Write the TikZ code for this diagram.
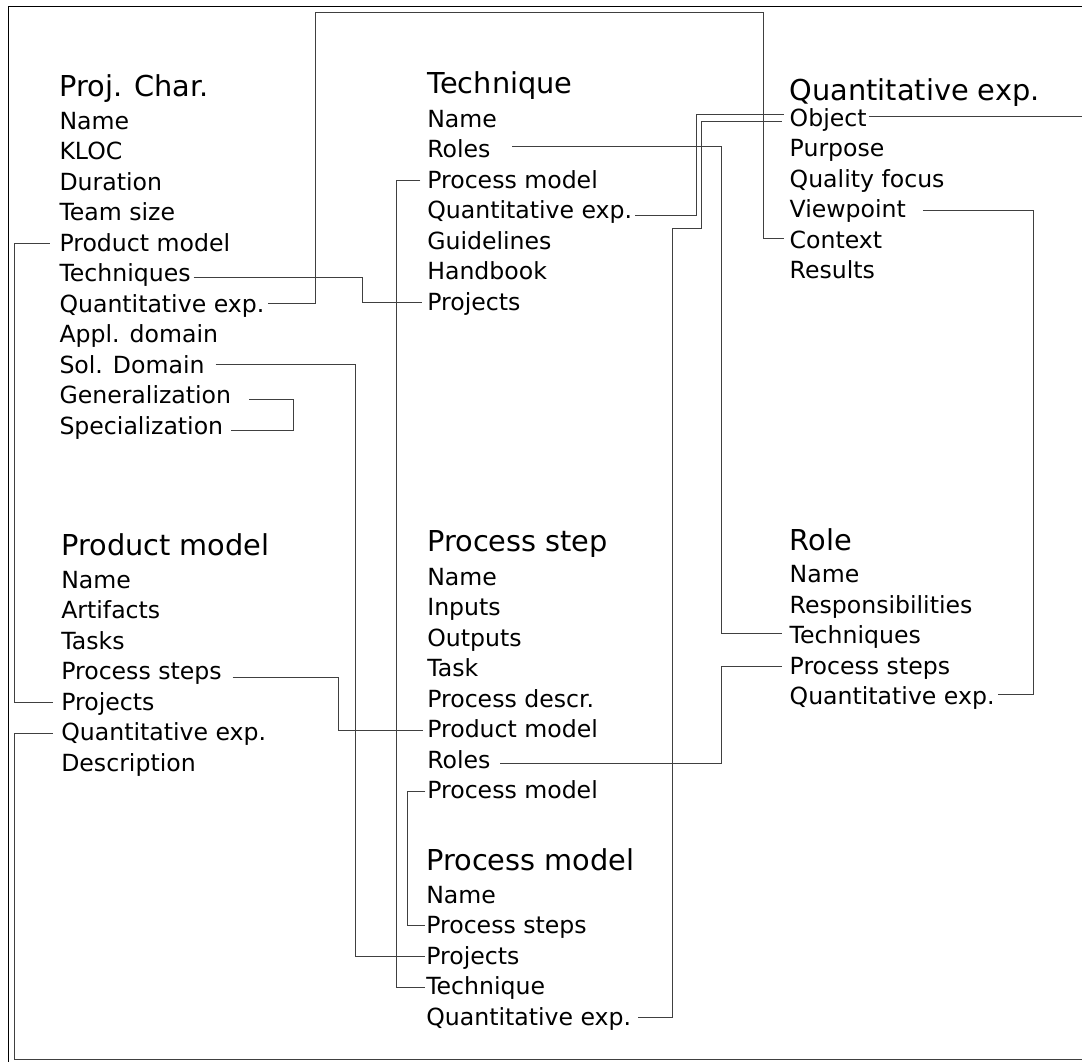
\documentclass[tikz,border=0pt]{standalone}
\usepackage{fontspec}
\setmainfont{DejaVu Sans}
\begin{document}
\begin{tikzpicture}[x=1pt,y=-1pt,
  item/.style={anchor=base west,inner sep=0pt,outer sep=0pt,
    text height=18pt,text depth=3pt,font=\fontsize{23.6}{28}\selectfont},
  title/.style={anchor=base west,inner sep=0pt,outer sep=0pt,
    font=\fontsize{28.8}{34}\selectfont},
  conn/.style={draw=black!75,line width=0.9pt},
  frame/.style={draw=black,line width=1pt},
  jog/.style={to path={-- (\tikztostart -| #1) -- (\tikztotarget -| #1) -- (\tikztotarget)}},
]
\useasboundingbox (0,0) rectangle (1082,1061);
\clip (0,0) rectangle (1082,1061);

% outer frame
\draw[frame] (8,1075) -- (8,6.5) -- (1095,6.5);

% Proj. Char.
\node[title] (pcT) at (59.5,96.7) {Proj. Char.};
\foreach \t [count=\i] in {Name,KLOC,Duration,Team size,Product model,Techniques,
    Quantitative exp.,Appl. domain,Sol. Domain,Generalization,Specialization}
  \node[item] (pc\i) at (59.5,{129.3+30.5*(\i-1)}) {\t};

% Technique
\node[title] (teT) at (427.5,93.3) {Technique};
\foreach \t [count=\i] in {Name,Roles,Process model,Quantitative exp.,Guidelines,
    Handbook,Projects}
  \node[item] (te\i) at (427.3,{127.3+30.5*(\i-1)}) {\t};

% Quantitative exp.
\node[title] (qeT) at (789.7,100) {Quantitative exp.};
\foreach \t [count=\i] in {Object,Purpose,Quality focus,Viewpoint,Context,Results}
  \node[item] (qe\i) at (789.7,{126+30.5*(\i-1)}) {\t};

% Product model
\node[title] (pmT) at (61.3,555) {Product model};
\foreach \t [count=\i] in {Name,Artifacts,Tasks,Process steps,Projects,
    Quantitative exp.,Description}
  \node[item] (pm\i) at (61.3,{588.3+30.5*(\i-1)}) {\t};

% Process step
\node[title] (psT) at (427.3,551.7) {Process step};
\foreach \t [count=\i] in {Name,Inputs,Outputs,Task,Process descr.,Product model,
    Roles,Process model}
  \node[item] (ps\i) at (427.3,{585+30.5*(\i-1)}) {\t};

% Process model
\node[title] (pdT) at (426.3,870) {Process model};
\foreach \t [count=\i] in {Name,Process steps,Projects,Technique,Quantitative exp.}
  \node[item] (pd\i) at (426.3,{903.3+30.5*(\i-1)}) {\t};

% Role
\node[title] (roT) at (789.7,550) {Role};
\foreach \t [count=\i] in {Name,Responsibilities,Techniques,Process steps,
    Quantitative exp.}
  \node[item] (ro\i) at (789.7,{582.5+30.5*(\i-1)}) {\t};

% vertical channels of the connectors
\coordinate (xA) at (14,0);
\coordinate (xB) at (362,0);
\coordinate (xC) at (696,0);
\coordinate (xD) at (721,0);
\coordinate (xE) at (396,0);
\coordinate (xF) at (355,0);
\coordinate (xG) at (293,0);
\coordinate (xH) at (338,0);
\coordinate (xI) at (407,0);
\coordinate (xJ) at (1033,0);
\coordinate (kTopA) at (315,12);
\coordinate (kTopB) at (763,12);
\coordinate (kMidA) at (672,228);
\coordinate (kMidB) at (701,228);
\coordinate (kBotR) at (1095,1059);
\coordinate (kBotL) at (14,1059);

% connectors
\draw[conn] ([xshift=-10]pc5.west) to[jog=xA] ([xshift=-8]pm5.west);
\draw[conn] ([xshift=3,yshift=-2.7]pc6.east) to[jog=xB] ([xshift=-5]te7.west);
\draw[conn] ([xshift=4,yshift=1.8]pc7.east) -| (kTopA)
  -| ([yshift=1.8]qe5.west -| kTopB) -- ([xshift=-6,yshift=1.8]qe5.west);
\draw[conn] ([xshift=3,yshift=-3.7]te4.east) to[jog=xC] ([xshift=-6,yshift=4.5]qe1.west);
\draw[conn] ([xshift=7]pd5.east) -| (kMidA)
  -| ([yshift=-2.5]qe1.west -| kMidB) -- ([xshift=-8,yshift=-2.5]qe1.west);
\draw[conn] ([xshift=22,yshift=4.3]te2.east) to[jog=xD] ([xshift=-8,yshift=3]ro3.west);
\draw[conn] ([xshift=-7]te3.west) to[jog=xE] ([xshift=-1.5]pd4.west);
\draw[conn] ([xshift=11,yshift=1]pc9.east) to[jog=xF] ([xshift=-1.5]pd3.west);
\draw[conn] ([xshift=18,yshift=-2.7]pc10.east) to[jog=xG] ([xshift=8,yshift=-3.2]pc11.east);
\draw[conn] ([xshift=11,yshift=-4.7]pm4.east) to[jog=xH] ([xshift=-4]ps6.west);
\draw[conn] ([xshift=10,yshift=-2.5]ps7.east) to[jog=xD] ([xshift=-8]ro4.west);
\draw[conn] ([xshift=-2]ps8.west) to[jog=xI] ([xshift=-1.5,yshift=1.3]pd2.west);
\draw[conn] ([xshift=17]qe4.east) to[jog=xJ] ([xshift=3,yshift=3]ro5.east);
\draw[conn] ([xshift=2,yshift=2.5]qe1.east) -| (kBotR)
  -| (pm6.west -| kBotL) -- ([xshift=-8]pm6.west);
\end{tikzpicture}
\end{document}
